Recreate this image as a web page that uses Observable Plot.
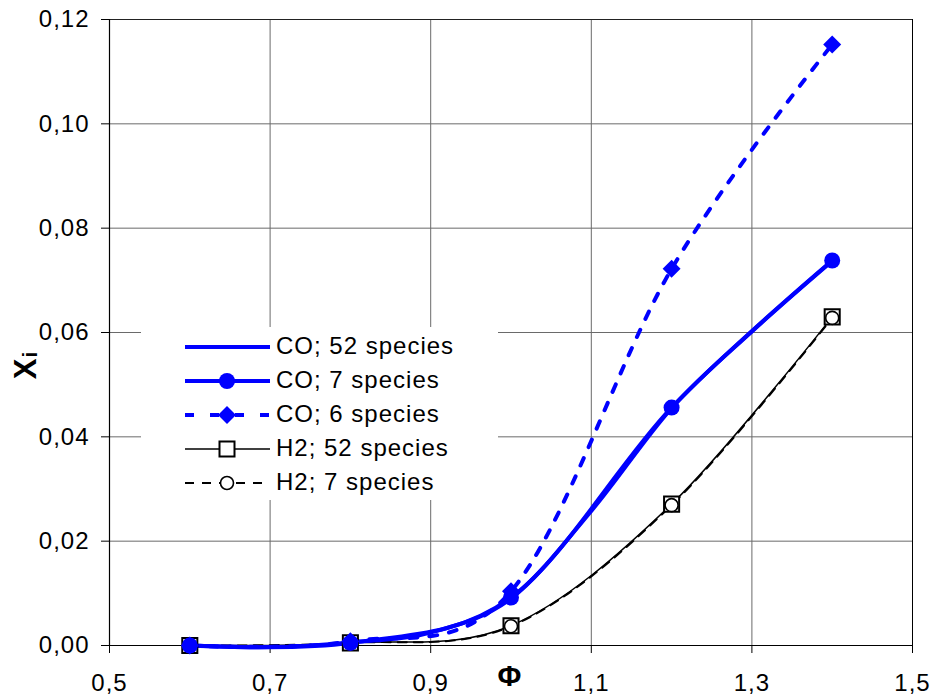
<!DOCTYPE html>
<html><head><meta charset="utf-8">
<script src="https://cdn.jsdelivr.net/npm/d3@7"></script>
<script src="https://cdn.jsdelivr.net/npm/@observablehq/plot@0.6"></script>
<style>
body{margin:0;background:#fff;}
#chart{width:933px;height:698px;}
</style></head><body><div id="chart"></div>
<script>
// ---- data ----
const phi = [0.6, 0.8, 1.0, 1.2, 1.4];
const phi52 = [0.6, 0.7, 0.8, 0.9, 1.0, 1.1, 1.2, 1.3, 1.4];
const co52 = [0.0000, -0.0003, 0.0006, 0.0025, 0.0090, 0.0258, 0.0455, 0.0602, 0.0737];
const co7  = [0.0000, 0.0005, 0.0092, 0.0456, 0.0738];
const co6  = [0.0000, 0.0008, 0.0104, 0.0722, 0.1152];
const h2_52 = [0.0000, 0.0005, 0.0038, 0.0271, 0.0630];
const h2_7  = [0.0000, 0.0005, 0.0037, 0.0269, 0.0628];
const xTicks = [0.5, 0.7, 0.9, 1.1, 1.3, 1.5];
const yTicks = [0, 0.02, 0.04, 0.06, 0.08, 0.10, 0.12];
const seriesNames = ["CO; 52 species", "CO; 7 species", "CO; 6 species", "H2; 52 species", "H2; 7 species"];
const xLabel = "Φ";
const yLabelMain = "X", yLabelSub = "i";

const rows = (xs, ys) => xs.map((x, i) => ({x, y: ys[i]}));
const dCO52 = rows(phi52, co52), dCO7 = rows(phi, co7), dCO6 = rows(phi, co6);
const dH52 = rows(phi, h2_52), dH7 = rows(phi, h2_7);
const comma = (f) => (d) => d3.format(f)(d).replace(".", ",");
const BLUE = "#0000ff";

const plot = Plot.plot({
  width: 933, height: 698,
  marginLeft: 109, marginRight: 21, marginTop: 19, marginBottom: 53,
  style: {fontFamily: "'Liberation Sans', Arial, sans-serif", fontSize: "24px", letterSpacing: "1px", background: "#fff", color: "#000"},
  x: {domain: [0.5, 1.5]},
  y: {domain: [0, 0.12]},
  marks: [
    Plot.gridX(xTicks, {stroke: "#6a6a6a", strokeOpacity: 1}),
    Plot.gridY(yTicks, {stroke: "#6a6a6a", strokeOpacity: 1}),
    Plot.axisX(xTicks, {tickSize: 8, tickPadding: 20, tickFormat: comma(".1f"), label: null, fontSize: 24}),
    Plot.axisY(yTicks, {tickSize: 8, tickPadding: 12, tickFormat: comma(".2f"), label: null, fontSize: 24}),
    Plot.ruleX([1.5], {stroke: "#000"}),
    Plot.ruleY([0.12], {stroke: "#222"}),
    Plot.ruleX([0.5], {stroke: "#000", strokeWidth: 1.2}),
    Plot.ruleY([0], {stroke: "#000", strokeWidth: 1.2}),
    Plot.line(dH52, {x: "x", y: "y", stroke: "#000", strokeWidth: 1.5, curve: "cardinal"}),
    Plot.line(dH7, {x: "x", y: "y", stroke: "#000", strokeWidth: 2, strokeDasharray: "9,7", curve: "cardinal"}),
    Plot.line(dCO52, {x: "x", y: "y", stroke: BLUE, strokeWidth: 4, curve: "cardinal"}),
    Plot.line(dCO7, {x: "x", y: "y", stroke: BLUE, strokeWidth: 4, curve: "cardinal"}),
    Plot.line(dCO6, {x: "x", y: "y", stroke: BLUE, strokeWidth: 4, strokeDasharray: "8,12", curve: "cardinal"}),
    Plot.dot(dH52, {x: "x", y: "y", symbol: "square", r: 8.5, fill: "#fff", stroke: "#000", strokeWidth: 2}),
    Plot.dot(dH7, {x: "x", y: "y", symbol: "circle", r: 6.5, fill: "#fff", stroke: "#000", strokeWidth: 1.6}),
    Plot.dot(dCO6, {x: "x", y: "y", symbol: "diamond2", r: 8.1, fill: BLUE, stroke: "none"}),
    Plot.dot(dCO7, {x: "x", y: "y", symbol: "circle", r: 8, fill: BLUE, stroke: "none"})
  ]
});
document.getElementById("chart").appendChild(plot);

// ---- legend (inside plot area) and axis titles ----
const svg = d3.select(plot);
const lg = svg.append("g").attr("text-anchor", "start");
lg.append("rect").attr("x", 141).attr("y", 327).attr("width", 357).attr("height", 173).attr("fill", "#fff");
const styles = [
  {stroke: BLUE, w: 4, dash: null, sym: null},
  {stroke: BLUE, w: 4, dash: null, sym: "circle"},
  {stroke: BLUE, w: 4, dash: "9,16", sym: "diamond"},
  {stroke: "#000", w: 1.5, dash: null, sym: "square"},
  {stroke: "#000", w: 2, dash: "9,8", sym: "ocircle"}
];
seriesNames.forEach((name, i) => {
  const y = 347 + 34 * i, s = styles[i], cx = 227;
  const ln = lg.append("line").attr("x1", 185).attr("x2", 270).attr("y1", y).attr("y2", y)
    .attr("stroke", s.stroke).attr("stroke-width", s.w);
  if (s.dash) ln.attr("stroke-dasharray", s.dash);
  if (s.sym === "circle") lg.append("circle").attr("cx", cx).attr("cy", y).attr("r", 8).attr("fill", BLUE);
  if (s.sym === "diamond") lg.append("path").attr("d", `M${cx},${y-9}L${cx+9},${y}L${cx},${y+9}L${cx-9},${y}Z`).attr("fill", BLUE);
  if (s.sym === "square") lg.append("rect").attr("x", cx-7.5).attr("y", y-7.5).attr("width", 15).attr("height", 15).attr("fill", "#fff").attr("stroke", "#000").attr("stroke-width", 2);
  if (s.sym === "ocircle") lg.append("circle").attr("cx", cx).attr("cy", y).attr("r", 6.5).attr("fill", "#fff").attr("stroke", "#000").attr("stroke-width", 1.6);
  lg.append("text").attr("x", 276).attr("y", y + 7).attr("text-anchor", "start").attr("font-size", 24).attr("fill", "#000").text(name);
});
svg.append("text").attr("x", 510).attr("y", 686).attr("text-anchor", "middle")
  .attr("font-size", 29).attr("font-weight", "bold").text(xLabel);
const yl = svg.append("text").attr("transform", "translate(36,365) rotate(-90)").attr("text-anchor", "middle").attr("font-weight", "bold");
yl.append("tspan").attr("font-size", 31).text(yLabelMain);
yl.append("tspan").attr("font-size", 21).attr("dy", 1).text(yLabelSub);
</script></body></html>
